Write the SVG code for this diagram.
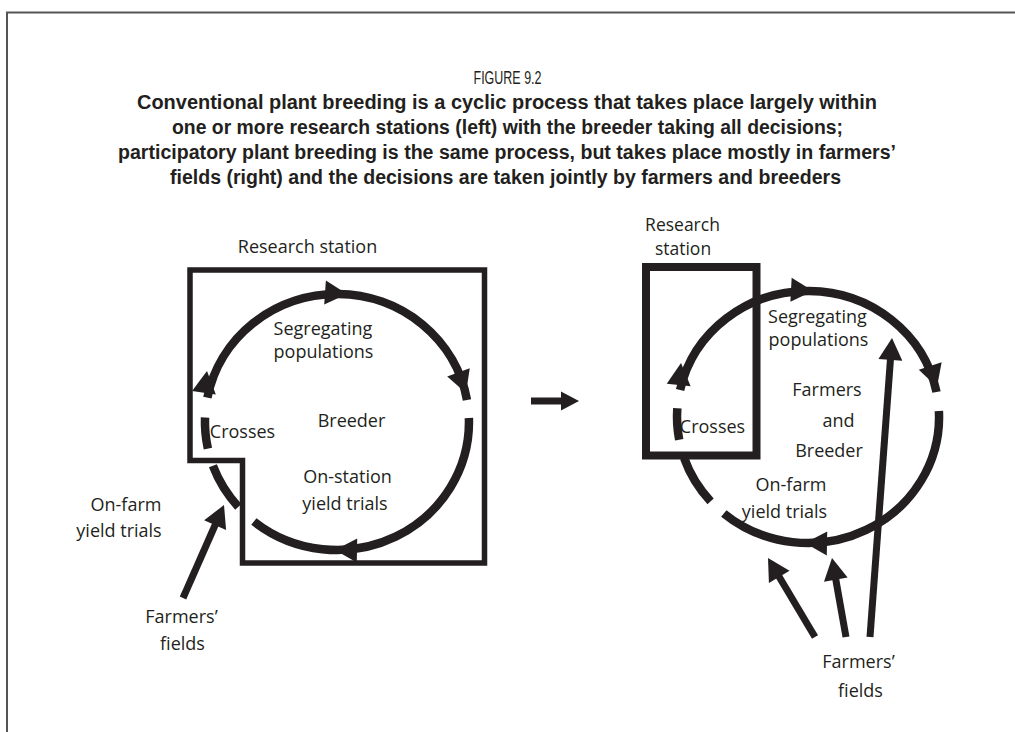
<svg xmlns="http://www.w3.org/2000/svg" xmlns:xlink="http://www.w3.org/1999/xlink" width="1015" height="732" viewBox="0 0 1015 732">
<style>
.t{font-family:"Open Sans","Noto Sans",sans-serif;font-size:18px;fill:#231f20;text-anchor:middle}
.s{font-size:17.5px}
.h{font-family:"Liberation Sans","Arial",sans-serif;font-size:18px;fill:#231f20;text-anchor:middle}
.hb{font-weight:bold;font-size:20px}
.arc{fill:none;stroke:#231f20;stroke-width:8.5}
.box{fill:none;stroke:#231f20}
.ln{fill:none;stroke:#231f20;stroke-width:7}
.ah{fill:#231f20}
</style>
<defs>
<path id="ah" d="M0,0 L-22,-12 L-22,12 Z"/>
</defs>
<path d="M7,732 V12.5 H1015" fill="none" stroke="#555" stroke-width="2"/>
<g id="title">
<text class="h" x="507.5" y="84" textLength="68" lengthAdjust="spacingAndGlyphs">FIGURE 9.2</text>
<text class="h hb" x="507" y="109" textLength="740" lengthAdjust="spacingAndGlyphs">Conventional plant breeding is a cyclic process that takes place largely within</text>
<text class="h hb" x="507.5" y="134" textLength="671" lengthAdjust="spacingAndGlyphs">one or more research stations (left) with the breeder taking all decisions;</text>
<text class="h hb" x="507" y="159" textLength="778" lengthAdjust="spacingAndGlyphs">participatory plant breeding is the same process, but takes place mostly in farmers’</text>
<text class="h hb" x="505.5" y="184" textLength="671" lengthAdjust="spacingAndGlyphs">fields (right) and the decisions are taken jointly by farmers and breeders</text>
</g>
<g id="left-station">
<polygon class="box" stroke-width="5.5" points="190,270 484.5,270 484.5,563 242.5,563 242.5,460.5 190,460.5"/>
<text class="t" x="307.5" y="253">Research station</text>
</g>
<g id="left-segregating"><text class="t" x="323" y="335">Segregating</text><text class="t" x="323.5" y="358">populations</text></g>
<g id="left-breeder"><text class="t" x="351.5" y="427">Breeder</text></g>
<g id="left-crosses"><text class="t" x="242.5" y="438">Crosses</text></g>
<g id="left-onstation"><text class="t" x="347.5" y="483">On-station</text><text class="t" x="345" y="510">yield trials</text></g>
<g id="left-onfarm"><text class="t" x="126" y="511">On-farm</text><text class="t" x="119" y="537">yield trials</text></g>
<g id="left-farmers"><text class="t" x="181.5" y="623">Farmers’</text><text class="t" x="182.5" y="650">fields</text></g>
<g id="right-station">
<rect class="box" stroke-width="8" x="646" y="267" width="110.5" height="188.5"/>
<text class="t s" x="682.5" y="231">Research</text><text class="t s" x="683" y="255">station</text>
</g>
<g id="right-segregating"><text class="t" x="817.5" y="323">Segregating</text><text class="t" x="818.5" y="346">populations</text></g>
<g id="right-farmers-breeder"><text class="t" x="827" y="396">Farmers</text><text class="t" x="838.5" y="427">and</text><text class="t" x="829" y="457">Breeder</text></g>
<g id="right-crosses"><text class="t" x="712.5" y="433">Crosses</text></g>
<g id="right-onfarm"><text class="t" x="791" y="491">On-farm</text><text class="t" x="784.5" y="518">yield trials</text></g>
<g id="right-farmers"><text class="t" x="858.5" y="668">Farmers’</text><text class="t" x="860.5" y="697">fields</text></g>
<g id="connectors">
<path class="arc" d="M207.4,397.6 A132,128 0 0 1 467.0,400.0"/>
<path class="arc" d="M468.9,418.0 A132,128 0 0 1 253.9,521.5"/>
<path class="arc" d="M238.3,506.8 A132,128 0 0 1 212.9,465.8"/>
<path class="arc" d="M207.9,448.6 A132,128 0 0 1 205.0,417.5"/>
<use href="#ah" class="ah" transform="translate(207,371) rotate(-82)"/>
<use href="#ah" class="ah" transform="translate(347,294) rotate(4)"/>
<use href="#ah" class="ah" transform="translate(466,393) rotate(70)"/>
<use href="#ah" class="ah" transform="translate(335,550) rotate(181)"/>
<path class="arc" d="M680.1,390.0 A131,126 0 0 1 936.5,392.0"/>
<path class="arc" d="M938.9,411.0 A131,126 0 0 1 723.8,513.5"/>
<path class="arc" d="M710.6,501.3 A131,126 0 0 1 684.1,458.0"/>
<path class="arc" d="M679.2,439.7 A131,126 0 0 1 677.3,408.2"/>
<use href="#ah" class="ah" transform="translate(681,363) rotate(-84)"/>
<use href="#ah" class="ah" transform="translate(813,291) rotate(3)"/>
<use href="#ah" class="ah" transform="translate(937,387) rotate(72)"/>
<use href="#ah" class="ah" transform="translate(805,543) rotate(181)"/>
<line class="ln" x1="531" y1="401" x2="563" y2="401"/>
<polygon class="ah" points="561,391.5 579,401 561,410.5"/>
<line class="ln" x1="183" y1="598" x2="216.7" y2="521.5"/>
<use href="#ah" class="ah" transform="translate(224,505) rotate(-66.2)"/>
<line class="ln" x1="815" y1="637" x2="777.2" y2="573.5"/>
<use href="#ah" class="ah" transform="translate(768,558) rotate(-120.7)"/>
<line class="ln" x1="846" y1="637" x2="835.1" y2="575.7"/>
<use href="#ah" class="ah" transform="translate(832,558) rotate(-100)"/>
<line class="ln" x1="870" y1="637" x2="890.7" y2="355.9"/>
<use href="#ah" class="ah" transform="translate(892,338) rotate(-85.8)"/>
</g>
</svg>
